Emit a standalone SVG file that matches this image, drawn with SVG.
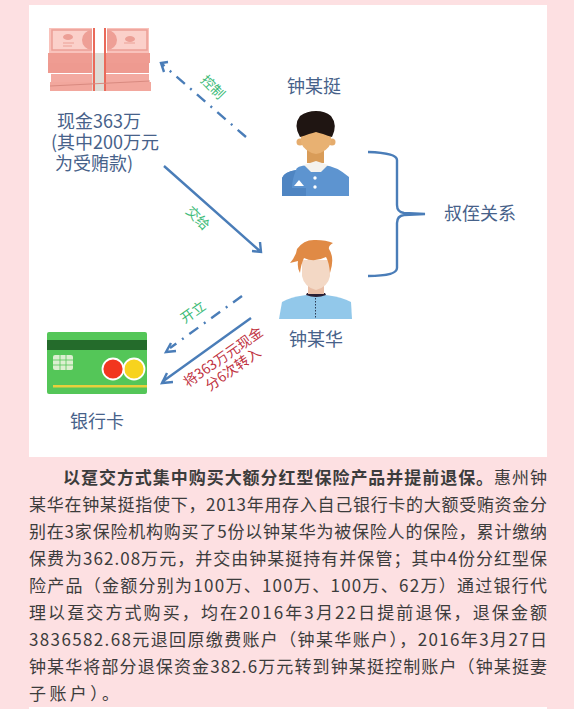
<svg xmlns="http://www.w3.org/2000/svg" width="574" height="709" viewBox="0 0 574 709">
<style>
text{font-family:"Noto Sans CJK SC","Noto Sans",sans-serif}
.lb{font-size:18px;fill:#47628a;text-anchor:middle}
.gr{font-size:13.5px;fill:#3dbb78;text-anchor:middle}
.rd{font-size:14px;fill:#c0323f;text-anchor:middle}
.bd{font-size:17px;fill:#3c3c3c}
.ln{fill:none;stroke:#4a7db8;stroke-width:2.4}
.dd{stroke-dasharray:11 7 2 7}
</style>
<rect width="574" height="709" fill="#fde0e2"/>
<rect x="29" y="5" width="518" height="452" fill="#fff"/>
<rect x="29" y="707" width="518" height="2" fill="#fff"/>
<g id="cash">
<rect x="48" y="53" width="102" height="10" fill="#ef9c92"/>
<rect x="48" y="63" width="101" height="10" fill="#ee9a90"/>
<rect x="51" y="74" width="98" height="8" fill="#f3aaa1"/>
<rect x="50" y="82" width="101" height="9" fill="#f2a79d"/>
<rect x="49" y="28" width="100" height="25" fill="#f9c2bb"/>
<rect x="52" y="30" width="40" height="20" fill="#fbd0ca" stroke="#eb9f96" stroke-width="1.500"/>
<rect x="107" y="30" width="40" height="20" fill="#fbd0ca" stroke="#eb9f96" stroke-width="1.500"/>
<ellipse cx="68" cy="37" rx="5" ry="3" fill="#ec9f96"/>
<ellipse cx="130" cy="39" rx="5" ry="3" fill="#ec9f96"/>
<path d="M63 43h11M63 46h9M124 43h11" stroke="#ec9f96" stroke-width="1.200"/>
<path d="M92 30A10 10 0 0 0 92 50ZM107 30A10 10 0 0 1 107 50Z" fill="#ee9f96"/>
<rect x="92" y="28" width="15" height="25" fill="#fff"/>
<rect x="92" y="53" width="14" height="38" fill="#dfdcd5"/>
<path d="M94 28V91M105 28V91" stroke="#ea6a5a" stroke-width="2"/>
<path d="M50 86L150 81" stroke="#d98a80" stroke-width="1"/>
</g>
<g id="cash-label">
<text class="lb"><tspan x="99" y="128">现金363万</tspan><tspan x="105" y="149">(其中200万元</tspan><tspan x="94" y="170">为受贿款)</tspan></text>
</g>
<g id="person-uncle">
<text class="lb" x="314" y="93">钟某挺</text>
<path d="M296 170Q296 166 308 165H324Q336 166 349 177V196H282V178Q284 172 296 170Z" fill="#5d94d0"/>
<path d="M282 196V178Q284 172 296 170Q292 180 292 188H306V196Z" fill="#4f85c2"/>
<rect x="307" y="148" width="17" height="15" fill="#d99c58"/>
<path d="M304 165L316 161L328 165L321 172H311Z" fill="#f4f2ee"/>
<path d="M294 186L299 180L304 186Z" fill="#fff"/>
<circle cx="315" cy="178" r="1.700" fill="#fff"/><circle cx="315" cy="187" r="1.700" fill="#fff"/>
<circle cx="300" cy="142" r="3.500" fill="#e5ac6d"/><circle cx="332" cy="142" r="3.500" fill="#e5ac6d"/>
<path d="M301 130H331V143Q327 152 316 154Q305 152 301 143Z" fill="#e8b172"/>
<path d="M300 137Q293 125 300 116Q307 111 316 111Q325 111 331 116Q338 125 332 137Q328 136 323 134Q319 133 316 132Q313 133 309 134Q304 136 300 137Z" fill="#1f1512"/>
</g>
<g id="person-nephew">
<text class="lb" x="316" y="346">钟某华</text>
<path d="M279 319L282 302Q290 297 306 295H326Q342 297 351 302L352 319Z" fill="#92c8ea"/>
<path d="M306 295Q316 299 326 295L325 293H307Z" fill="#2b1f33"/>
<path d="M315.500 298V319" stroke="#2c3d55" stroke-width="1" stroke-dasharray="1.500 1.500"/>
<rect x="308" y="280" width="16" height="14" fill="#e9bea6"/>
<path d="M302 260H330V276Q328 287 316 290Q304 287 302 276Z" fill="#f3d8c5"/>
<path d="M300 273Q297 268 298 261Q294 262 290 263Q296 256 297 249Q304 239 316 240Q326 240 333 243Q328 246 329 249Q335 258 330 273Q329 262 326 257Q314 263 304 258Q301 264 300 273Z" fill="#e08a45"/>
</g>
<g id="relation">
<text class="lb" x="480" y="220">叔侄关系</text>
</g>
<g id="bank-card">
<rect x="47" y="332" width="100" height="62" rx="2" fill="#54c658"/>
<rect x="47" y="340" width="100" height="10" fill="#246b2b"/>
<rect x="53" y="355" width="20" height="15" rx="2" fill="#dcefd0"/>
<path d="M53 360H73M53 365H73M60 355V370M66 355V370" stroke="#54c658" stroke-width=".8"/>
<rect x="53" y="385" width="94" height="2.500" fill="#e8cf3c"/>
<circle cx="134" cy="369" r="10.500" fill="#f7d31e" stroke="#fff" stroke-width="1.800"/>
<circle cx="113" cy="369" r="10.500" fill="#f2361f" stroke="#fff" stroke-width="1.800"/>
<text class="lb" x="97" y="428">银行卡</text>
</g>
<g id="connectors">
<path class="ln dd" d="M246 137L162 64"/>
<path class="ln" d="M168 62L161 63L164 72"/>
<path class="ln" d="M164 166L261 252M252 251L261 252L260 242"/>
<path class="ln dd" d="M242 296L170 348"/>
<path class="ln" d="M176 351L166 352L171 343"/>
<path class="ln" d="M251 318L162 382M173 382L162 383L167 373"/>
<path class="ln" d="M368 152Q397 153 397 160V205Q397 212 404 213L425 214L404 215Q397 216 397 223V268Q397 276 368 276"/>
</g>
<g id="connector-labels">
<text class="gr" x="213" y="92" transform="rotate(45 213 87)">控制</text>
<text class="gr" x="198" y="223" transform="rotate(45 198 218)">交给</text>
<text class="gr" x="193" y="317" transform="rotate(-35 193 312)">开立</text>
<text class="rd" x="223" y="362" transform="rotate(-35 223 357)">将363万元现金</text>
<text class="rd" x="233" y="374" transform="rotate(-35 233 369)">分6次转入</text>
</g>
<g id="body-text">
<text class="bd" x="63" y="484" textLength="484" lengthAdjust="spacing"><tspan font-weight="700">以趸交方式集中购买大额分红型保险产品并提前退保。</tspan>惠州钟</text>
<text class="bd" x="29" y="511" textLength="518" lengthAdjust="spacing">某华在钟某挺指使下&#65292;2013年用存入自己银行卡的大额受贿资金分</text>
<text class="bd" x="29" y="538" textLength="518" lengthAdjust="spacing">别在3家保险机构购买了5份以钟某华为被保险人的保险&#65292;累计缴纳</text>
<text class="bd" x="29" y="565" textLength="518" lengthAdjust="spacing">保费为362.08万元&#65292;并交由钟某挺持有并保管&#65307;其中4份分红型保</text>
<text class="bd" x="29" y="592" textLength="518" lengthAdjust="spacing">险产品&#65288;金额分别为100万、100万、100万、62万&#65289;通过银行代</text>
<text class="bd" x="29" y="619" textLength="518" lengthAdjust="spacing">理以趸交方式购买&#65292;均在2016年3月22日提前退保&#65292;退保金额</text>
<text class="bd" x="29" y="646" textLength="518" lengthAdjust="spacing">3836582.68元退回原缴费账户&#65288;钟某华账户&#65289;&#65292;2016年3月27日</text>
<text class="bd" x="29" y="673" textLength="518" lengthAdjust="spacing">钟某华将部分退保资金382.6万元转到钟某挺控制账户&#65288;钟某挺妻</text>
<text class="bd" x="29" y="700" textLength="90" lengthAdjust="spacing">子账户&#65289;。</text>
</g>
</svg>
